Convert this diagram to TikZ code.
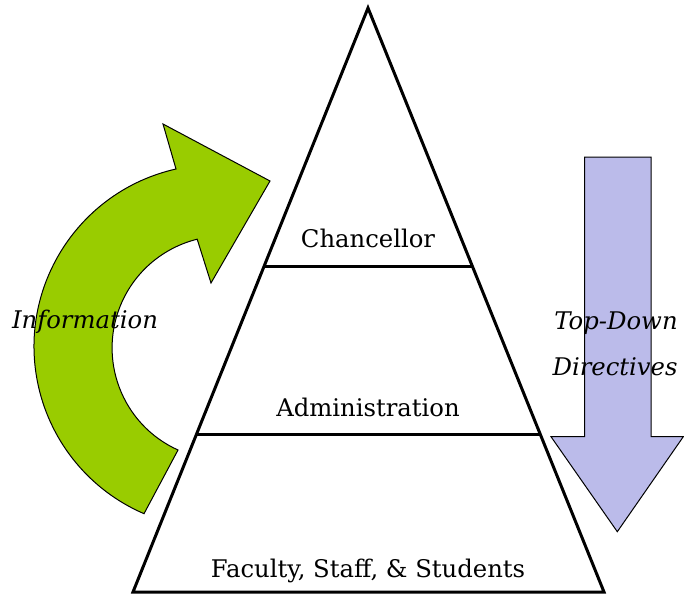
\documentclass[tikz,border=0pt]{standalone}
\usepackage{fontspec}
\setmainfont{DejaVu Serif}
\usetikzlibrary{calc}
\definecolor{infogreen}{RGB}{153,204,0}
\definecolor{dirpurple}{RGB}{187,187,234}
\begin{document}
\begin{tikzpicture}[x=1pt,y=1pt,line join=miter]
\tikzset{
  lvl/.style={font=\fontsize{24.3}{28}\selectfont, anchor=base, inner sep=0pt},
  side/.style={font=\fontsize{24.3}{28}\selectfont\itshape, anchor=base, inner sep=0pt},
  shapeline/.style={draw=black, line width=1pt},
  tri/.style={draw=black, line width=3pt}
}
\useasboundingbox (0,0) rectangle (684,594);
% green curved arrow
\coordinate (gtip) at (270,413);
\coordinate (gbarbA) at (163,470);
\coordinate (gouter) at (176,425);
\coordinate (gtail) at (178,144);
\coordinate (gbarbB) at (211,311);
\fill[infogreen] (gtip) -- (gbarbA) -- (gouter)
  arc[start angle=102.7, end angle=246.7, radius=182pt]
  -- (gtail) arc[start angle=245.7, end angle=103.9, radius=112pt]
  -- (gbarbB) -- cycle;
\draw[shapeline] (gtip) -- (gbarbA) -- (gouter)
  arc[start angle=102.7, end angle=246.7, radius=182pt]
  -- (gtail) arc[start angle=245.7, end angle=103.9, radius=112pt]
  -- (gbarbB) -- cycle;
% purple down arrow
\coordinate (ptl) at (584.5,436.8);
\coordinate (ptr) at (651,436.8);
\coordinate (psr) at (651,157.3);
\coordinate (phr) at (683.3,157.3);
\coordinate (ptip) at (617.3,62.3);
\coordinate (phl) at (551,157.3);
\coordinate (psl) at (584.5,157.3);
\filldraw[fill=dirpurple, shapeline] (ptl) -- (ptr) -- (psr) -- (phr) -- (ptip) -- (phl) -- (psl) -- cycle;
% pyramid
\coordinate (apex) at (368,586);
\coordinate (bl) at (133,2);
\coordinate (br) at (604,2);
\draw[tri] (apex) -- (br) -- (bl) -- cycle;
\coordinate (l1) at ($(bl)!0.5582!(apex)$);
\coordinate (r1) at ($(br)!0.5582!(apex)$);
\coordinate (l2) at ($(bl)!0.2705!(apex)$);
\coordinate (r2) at ($(br)!0.2705!(apex)$);
\draw[tri] (l1) -- (r1);
\draw[tri] (l2) -- (r2);
% labels
\node[lvl] (chan) at (368,346) {Chancellor};
\node[lvl] (admin) at (368,177) {Administration};
\node[lvl] (fss) at (368,17) {Faculty, Staff, \& Students};
\node[side] (info) at (85,265) {Information};
\node[side] (top) at (616,264) {Top-Down};
\node[side] (dir) at (615,218) {Directives};
\end{tikzpicture}
\end{document}
